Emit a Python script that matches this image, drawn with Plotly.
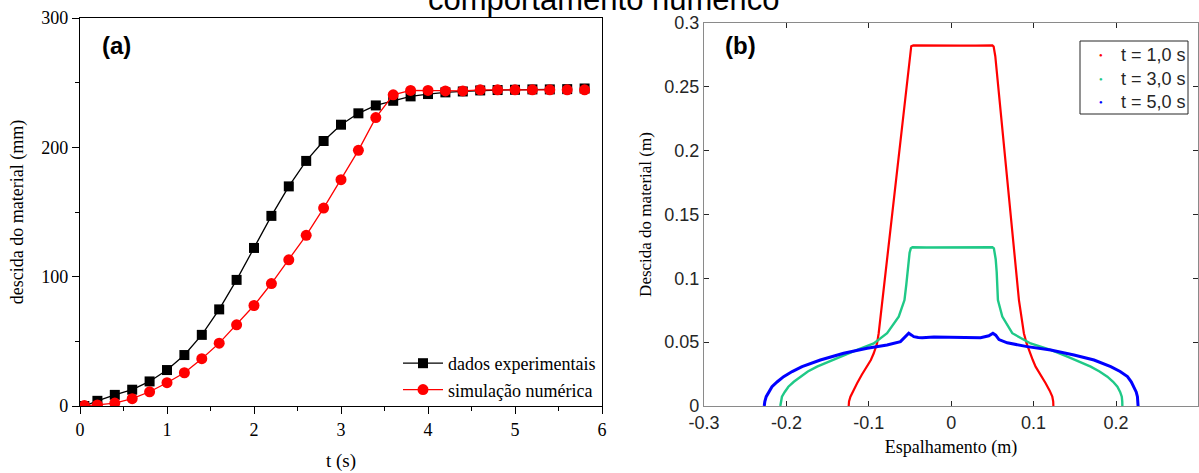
import plotly.graph_objects as go

# ---------------- data: panel (a) ----------------
t_s = [0.05, 0.2, 0.4, 0.6, 0.8, 1.0, 1.2, 1.4, 1.6, 1.8, 2.0, 2.2, 2.4, 2.6, 2.8,
       3.0, 3.2, 3.4, 3.6, 3.8, 4.0, 4.2, 4.4, 4.6, 4.8, 5.0, 5.2, 5.4, 5.6, 5.8]
dados_experimentais = [0.0, 4.0, 8.6, 12.6, 19.0, 27.8, 39.4, 55.0, 74.7, 97.5, 122.2, 147.0,
                       169.8, 189.5, 204.9, 217.5, 226.3, 232.4, 236.0, 239.4, 241.2, 242.5,
                       243.2, 244.0, 244.3, 244.5, 244.8, 244.8, 245.0, 245.5]
simulacao_numerica = [0.3, 0.8, 2.3, 5.7, 11.0, 18.0, 25.7, 36.6, 48.6, 62.8, 77.7, 94.7,
                      113.0, 132.0, 153.0, 175.0, 197.7, 223.0, 240.6, 244.0, 244.0, 243.6,
                      243.6, 244.5, 244.5, 244.5, 244.5, 244.5, 244.5, 244.5]
n_line = 28  # points joined by the line (up to t = 5.4 s)

# ---------------- data: panel (b) ----------------
x_t1 = [-0.1244, -0.1240, -0.1223, -0.1190, -0.1142, -0.1085, -0.1020, -0.0975, -0.0940, -0.0900,
        -0.0880, -0.0834, -0.0505, -0.0495, -0.0485, -0.0460, -0.0300, -0.0100, 0.0100, 0.0300,
        0.0500, 0.0515, 0.0525, 0.0535, 0.0822, 0.0882, 0.0915, 0.0955, 0.0990, 0.1024, 0.1085,
        0.1146, 0.1195, 0.1227, 0.1238, 0.1240]
y_t1 = [0.0, 0.0035, 0.0073, 0.0120, 0.0178, 0.0245, 0.0308, 0.0360, 0.0413, 0.0490,
        0.0570, 0.0830, 0.2740, 0.2790, 0.2818, 0.2824, 0.2822, 0.2823, 0.2822, 0.2823,
        0.2824, 0.2815, 0.2785, 0.2740, 0.0830, 0.0570, 0.0490, 0.0413, 0.0360, 0.0308, 0.0245,
        0.0178, 0.0120, 0.0073, 0.0035, 0.0]

x_t3 = [-0.2074, -0.2067, -0.2054, -0.2020, -0.1976, -0.1910, -0.1831, -0.1740, -0.1628, -0.1490,
        -0.1345, -0.1142, -0.0940, -0.0778, -0.0637, -0.0567, -0.0545, -0.0530, -0.0515, -0.0505,
        -0.0490, -0.0470, -0.0300, 0.0000, 0.0300, 0.0500, 0.0518, 0.0530, 0.0540, 0.0552,
        0.0560, 0.0567, 0.0620, 0.0741, 0.0964, 0.1207, 0.1410, 0.1560, 0.1693, 0.1800,
        0.1895, 0.1965, 0.2017, 0.2050, 0.2070, 0.2076, 0.2077]
y_t3 = [0.0, 0.0035, 0.0073, 0.0110, 0.0151, 0.0190, 0.0230, 0.0270, 0.0308, 0.0347,
        0.0386, 0.0439, 0.0490, 0.0570, 0.0700, 0.0830, 0.0950, 0.1050, 0.1150, 0.1200,
        0.1235, 0.1243, 0.1242, 0.1243, 0.1242, 0.1243, 0.1235, 0.1200, 0.1150, 0.1050,
        0.0950, 0.0830, 0.0700, 0.0570, 0.0490, 0.0439, 0.0386, 0.0347, 0.0308, 0.0270,
        0.0230, 0.0190, 0.0151, 0.0110, 0.0073, 0.0035, 0.0]

x_t5 = [-0.2269, -0.2262, -0.2245, -0.2215, -0.2175, -0.2110, -0.2034, -0.1930, -0.1810, -0.1588,
        -0.1305, -0.1020, -0.0778, -0.0616, -0.0555, -0.0515, -0.0480, -0.0454, -0.0400, -0.0352,
        -0.0210, 0.0000, 0.0235, 0.0356, 0.0457, 0.0506, 0.0540, 0.0580, 0.0680, 0.0923,
        0.1207, 0.1490, 0.1733, 0.1936, 0.2050, 0.2139, 0.2185, 0.2219, 0.2245, 0.2260,
        0.2267, 0.2268]
y_t5 = [0.0, 0.0035, 0.0073, 0.0110, 0.0151, 0.0190, 0.0230, 0.0270, 0.0308, 0.0360,
        0.0413, 0.0452, 0.0478, 0.0504, 0.0543, 0.0570, 0.0555, 0.0543, 0.0537, 0.0535,
        0.0540, 0.0540, 0.0540, 0.0535, 0.0550, 0.0570, 0.0555, 0.0520, 0.0495, 0.0465,
        0.0439, 0.0400, 0.0360, 0.0308, 0.0270, 0.0230, 0.0190, 0.0151, 0.0110, 0.0073,
        0.0035, 0.0]

curve_names = ["t = 1,0 s", "t = 3,0 s", "t = 5,0 s"]
curve_colors = ["#ff0000", "#1fc987", "#0000ff"]

SERIF = "Liberation Serif, Times New Roman, serif"
SANS = "Liberation Sans, Arial, sans-serif"

fig = go.Figure()

# ---- panel (a)
fig.add_trace(go.Scatter(x=t_s[:n_line], y=dados_experimentais[:n_line], mode="lines+markers",
                         name="dados experimentais", line=dict(color="black", width=1.3),
                         marker=dict(symbol="square", size=10, color="black"),
                         xaxis="x", yaxis="y", legend="legend"))
fig.add_trace(go.Scatter(x=t_s[n_line:], y=dados_experimentais[n_line:], mode="markers",
                         showlegend=False, marker=dict(symbol="square", size=10, color="black"),
                         xaxis="x", yaxis="y"))
fig.add_trace(go.Scatter(x=t_s[:n_line], y=simulacao_numerica[:n_line], mode="lines+markers",
                         name="simulação numérica", line=dict(color="#ff0000", width=1.3),
                         marker=dict(symbol="circle", size=11, color="#ff0000"),
                         xaxis="x", yaxis="y", legend="legend"))
fig.add_trace(go.Scatter(x=t_s[n_line:], y=simulacao_numerica[n_line:], mode="markers",
                         showlegend=False, marker=dict(symbol="circle", size=11, color="#ff0000"),
                         xaxis="x", yaxis="y"))

# ---- panel (b)
for xs, ys, nm, col, w in zip([x_t1, x_t3, x_t5], [y_t1, y_t3, y_t5], curve_names,
                              curve_colors, [2.2, 2.4, 3.0]):
    fig.add_trace(go.Scatter(x=xs, y=ys, mode="lines", line=dict(color=col, width=w),
                             name=nm, showlegend=False, xaxis="x2", yaxis="y2"))

W, H = 1199, 473

def px(x):
    return x / W

def py(y):
    return (H - y) / H

annotations = [
    dict(text="comportamento numérico", x=px(604), y=1, xref="paper", yref="paper",
         xanchor="center", yanchor="bottom", yshift=-19, showarrow=False,
         font=dict(family=SANS, size=31, color="black")),
    dict(text="<b>(a)</b>", x=px(116), y=py(46), xref="paper", yref="paper",
         xanchor="center", yanchor="middle", showarrow=False,
         font=dict(family=SANS, size=24, color="black")),
    dict(text="<b>(b)</b>", x=px(740), y=py(46), xref="paper", yref="paper",
         xanchor="center", yanchor="middle", showarrow=False,
         font=dict(family=SANS, size=24, color="black")),
]

# boxed legend of panel (b), MATLAB style (dot marker + label)
shapes = [dict(type="rect", xref="paper", yref="paper", x0=px(1080), x1=px(1188),
               y0=py(114), y1=py(41), line=dict(color="#262626", width=1), fillcolor="white",
               layer="above")]
for i, (nm, col) in enumerate(zip(curve_names, curve_colors)):
    yrow = 55 + 23.5 * i
    annotations.append(dict(text="●", x=px(1101), y=py(yrow), xref="paper", yref="paper",
                            xanchor="center", yanchor="middle", showarrow=False,
                            font=dict(family=SANS, size=6, color=col)))
    annotations.append(dict(text=nm, x=px(1119), y=py(yrow), xref="paper", yref="paper",
                            xanchor="left", yanchor="middle", showarrow=False,
                            font=dict(family=SANS, size=18, color="#262626")))

fig.update_layout(
    width=W, height=H, margin=dict(l=0, r=0, t=0, b=0, autoexpand=False),
    paper_bgcolor="white", plot_bgcolor="white",
    xaxis=dict(domain=[px(80), px(602)], range=[0, 6], tickvals=[0, 1, 2, 3, 4, 5, 6],
               showline=True, linecolor="black", linewidth=1.3, mirror=True,
               ticks="outside", ticklen=7, tickwidth=1.2, tickcolor="black",
               minor=dict(ticks="outside", ticklen=4, dtick=0.5, tickcolor="black", tickwidth=1.2),
               showgrid=False, zeroline=False, automargin=False,
               tickfont=dict(family=SERIF, size=18, color="black"),
               title=dict(text="t (s)", font=dict(family=SERIF, size=19, color="black"), standoff=14),
               anchor="y"),
    yaxis=dict(domain=[py(406), py(18)], range=[0, 300], tickvals=[0, 100, 200, 300],
               showline=True, linecolor="black", linewidth=1.3, mirror=True,
               ticks="outside", ticklen=7, tickwidth=1.2, tickcolor="black",
               minor=dict(ticks="outside", ticklen=4, dtick=50, tickcolor="black", tickwidth=1.2),
               showgrid=False, zeroline=False, automargin=False,
               tickfont=dict(family=SERIF, size=18, color="black"),
               title=dict(text="descida do material (mm)", font=dict(family=SERIF, size=18, color="black"),
                          standoff=12),
               anchor="x"),
    xaxis2=dict(domain=[px(704), px(1198)], range=[-0.3, 0.2995],
                tickvals=[-0.3, -0.2, -0.1, 0, 0.1, 0.2], ticktext=["-0.3", "-0.2", "-0.1", "0", "0.1", "0.2"],
                showline=True, linecolor="#8a8a8a", linewidth=1.2, mirror="ticks",
                ticks="inside", ticklen=5, tickcolor="#262626", tickwidth=1,
                showgrid=False, zeroline=False, automargin=False,
                tickfont=dict(family=SANS, size=18, color="#262626"),
                title=dict(text="Espalhamento (m)", font=dict(family=SERIF, size=18, color="black"), standoff=8),
                anchor="y2"),
    yaxis2=dict(domain=[py(406), py(23)], range=[0, 0.3],
                tickvals=[0, 0.05, 0.1, 0.15, 0.2, 0.25, 0.3],
                ticktext=["0", "0.05", "0.1", "0.15", "0.2", "0.25", "0.3"],
                showline=True, linecolor="#8a8a8a", linewidth=1.2, mirror="ticks",
                ticks="inside", ticklen=5, tickcolor="#262626", tickwidth=1,
                showgrid=False, zeroline=False, automargin=False,
                tickfont=dict(family=SANS, size=18, color="#262626"),
                title=dict(text="Descida do material (m)", font=dict(family=SERIF, size=17, color="black"),
                           standoff=8),
                anchor="x2"),
    legend=dict(x=px(398), y=py(345), xanchor="left", yanchor="top", bgcolor="rgba(0,0,0,0)",
                font=dict(family=SERIF, size=18, color="black"), borderwidth=0,
                tracegroupgap=0, itemwidth=40),
    shapes=shapes,
    annotations=annotations,
)

fig.write_html("out.html")
